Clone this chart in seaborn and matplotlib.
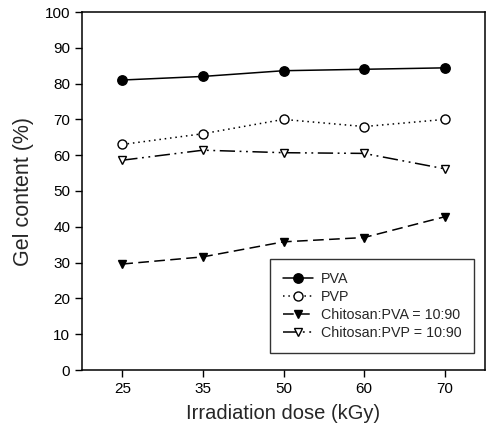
import matplotlib
matplotlib.use("Agg")
import matplotlib.pyplot as plt
import seaborn as sns
import pandas as pd

doses = ["25", "35", "50", "60", "70"]
pva = [81.0, 82.0, 83.6, 84.0, 84.4]
pvp = [63.0, 66.0, 70.0, 68.0, 70.0]
chi_pva = [29.6, 31.6, 35.8, 37.0, 42.8]
chi_pvp = [58.6, 61.4, 60.7, 60.5, 56.2]
labels = ["PVA", "PVP", "Chitosan:PVA = 10:90", "Chitosan:PVP = 10:90"]

sns.set_style("ticks")
plt.rcParams['font.family'] = ['Liberation Sans', 'DejaVu Sans']

fig = plt.figure(figsize=(4.86, 4.25), dpi=100)
ax = fig.add_axes([82/486, 55/425, 403/486, 358/425])

styles = [
    (pva, "o", "black", "-", 6.8),
    (pvp, "o", "white", (0, (1, 2.5)), 6.5),
    (chi_pva, "v", "black", (0, (7, 3.5)), 6.0),
    (chi_pvp, "v", "white", (0, (10, 3, 1.2, 3, 1.2, 3)), 6.0),
]
for (vals, mk, fc, ls, ms), lab in zip(styles, labels):
    df = pd.DataFrame({"dose": doses, "val": vals})
    sns.lineplot(data=df, x="dose", y="val", ax=ax, color="black", linewidth=1.1,
                 linestyle=ls, marker=mk, markersize=ms, markerfacecolor=fc,
                 markeredgecolor="black", markeredgewidth=1.0, label=lab)

ax.set_xlim(-0.5, 4.5)
ax.set_ylim(0, 100)
ax.set_yticks(range(0, 101, 10))
ax.tick_params(axis="both", direction="out", length=5, width=1, labelsize=11, colors="black")
for sp in ax.spines.values():
    sp.set_visible(True)
    sp.set_color("black")
    sp.set_linewidth(1.1)
ax.set_xlabel("Irradiation dose (kGy)", fontsize=14.5, labelpad=6)
ax.set_ylabel("Gel content (%)", fontsize=15.5, labelpad=8)

leg = ax.legend(loc="lower right", bbox_to_anchor=(0.973, 0.047), fontsize=10.3,
                frameon=True, fancybox=False, edgecolor="black", handlelength=2.1,
                borderpad=0.9, labelspacing=0.28, handletextpad=0.55,
                borderaxespad=0)
leg.get_frame().set_linewidth(1.0)

fig.savefig("out.png", dpi=100)
